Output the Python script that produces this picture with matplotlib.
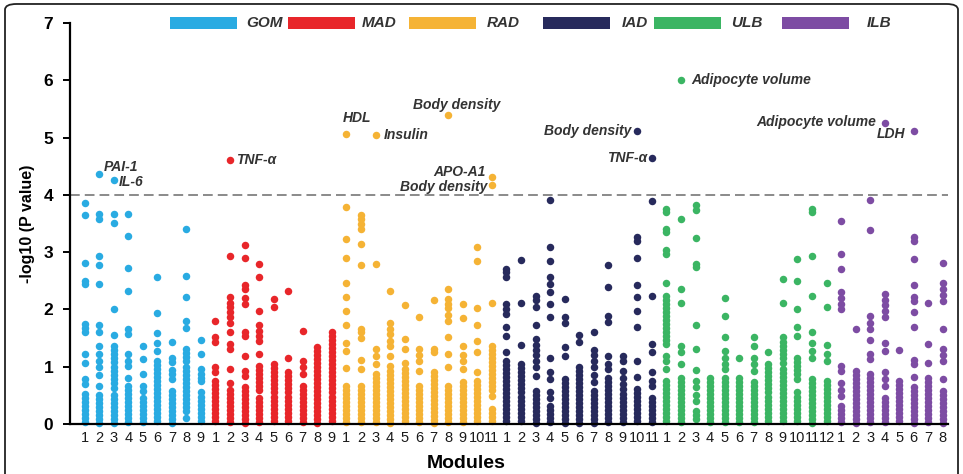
"""-log10 P values of trait associations per module in six adipose/liver tissues."""
import matplotlib; matplotlib.use("Agg"); import matplotlib.pyplot as plt
from matplotlib.patches import Rectangle, FancyBboxPatch
plt.rcParams.update({"font.family":["Liberation Sans","DejaVu Sans"],"font.size":10})

groups=["GOM","MAD","RAD","IAD","ULB","ILB"]
colors=["#29abe2","#e8262a","#f5b335","#272a5c","#3bb563","#7d4ca3"]

gom=[[3.85,3.65,2.81,2.49,2.45,1.75,1.67,1.6,1.22,1.07,0.78,0.69,0.52,0.45,0.38,0.31,0.24,0.17,0.1,0.03],
     [4.36,3.67,3.57,2.93,2.78,2.45,1.72,1.6,1.37,1.22,1.1,1.0,0.85,0.67,0.5,0.43,0.36,0.29,0.22,0.15,0.08,0.02],
     [4.26,3.67,3.51,2.0,1.56,1.37,1.3,1.22,1.15,1.08,1.0,0.93,0.86,0.79,0.72,0.62,0.5,0.43,0.36,0.29,0.22,0.15,0.08,0.02],
     [3.67,3.28,2.72,2.32,1.66,1.57,1.22,1.1,1.02,0.8,0.67,0.6,0.53,0.46,0.39,0.32,0.25,0.18,0.11,0.04],
     [1.37,1.13,0.87,0.67,0.58,0.46,0.39,0.32,0.25,0.18,0.11,0.04],
     [2.56,1.94,1.59,1.41,1.28,1.1,1.03,0.96,0.89,0.82,0.75,0.68,0.61,0.54,0.47,0.4,0.33,0.26,0.19,0.12,0.05],
     [1.44,1.16,1.08,0.95,0.88,0.78,0.58,0.51,0.44,0.37,0.3,0.23,0.16,0.09,0.02],
     [3.4,2.59,2.21,1.8,1.67,1.31,1.24,1.17,1.1,1.0,0.93,0.86,0.79,0.72,0.65,0.58,0.51,0.44,0.37,0.3,0.22,0.1],
     [1.47,1.22,0.96,0.88,0.8,0.75,0.55,0.48,0.41,0.34,0.27,0.2,0.13,0.06]]
mad=[[1.8,1.51,1.43,0.99,0.9,0.75,0.68,0.61,0.54,0.47,0.4,0.33,0.26,0.19,0.12,0.05],
     [4.61,2.93,2.21,2.12,2.04,1.95,1.86,1.77,1.61,1.4,1.31,0.96,0.72,0.6,0.53,0.46,0.39,0.32,0.25,0.18,0.11,0.04],
     [3.12,2.9,2.42,2.35,2.2,2.1,1.6,1.54,1.19,0.93,0.84,0.64,0.57,0.5,0.43,0.36,0.29,0.22,0.15,0.08,0.02],
     [2.8,2.57,1.97,1.72,1.63,1.53,1.45,1.22,1.02,0.95,0.88,0.81,0.74,0.67,0.6,0.46,0.39,0.32,0.25,0.18,0.11,0.04],
     [2.18,2.05,1.04,0.97,0.9,0.83,0.76,0.69,0.62,0.55,0.48,0.41,0.34,0.27,0.2,0.13,0.06],
     [2.32,1.16,0.9,0.83,0.76,0.69,0.62,0.55,0.48,0.41,0.34,0.27,0.2,0.13,0.06],
     [1.63,1.1,1.0,0.87,0.67,0.6,0.53,0.46,0.39,0.32,0.25,0.18,0.11,0.04],
     [1.34,1.27,1.2,1.13,1.06,0.99,0.92,0.85,0.78,0.71,0.64,0.57,0.5,0.43,0.36,0.29,0.22,0.15,0.08,0.02],
     [1.6,1.53,1.46,1.39,1.32,1.25,1.18,1.11,1.04,0.97,0.9,0.83,0.76,0.69,0.62,0.55,0.48,0.41,0.34,0.27,0.2,0.13,0.06]]
rad=[[5.06,3.79,3.23,2.9,2.47,2.21,1.97,1.73,1.41,1.28,0.97,0.67,0.6,0.53,0.46,0.39,0.32,0.25,0.18,0.11,0.04],
     [3.64,3.57,3.5,3.41,3.15,2.78,1.66,1.6,1.5,1.11,0.96,0.67,0.6,0.53,0.46,0.39,0.32,0.25,0.18,0.11,0.04],
     [5.05,2.8,1.31,1.18,1.05,0.87,0.8,0.73,0.66,0.59,0.52,0.45,0.38,0.31,0.24,0.17,0.1,0.03],
     [2.33,1.77,1.65,1.57,1.45,1.37,1.19,1.02,0.93,0.86,0.79,0.72,0.65,0.58,0.51,0.44,0.37,0.3,0.23,0.16,0.09,0.02],
     [2.07,1.48,1.31,1.07,0.96,0.89,0.82,0.75,0.68,0.61,0.54,0.47,0.4,0.33,0.26,0.19,0.12,0.05],
     [1.86,1.31,1.2,1.1,0.93,0.67,0.6,0.53,0.46,0.39,0.32,0.25,0.18,0.11,0.04],
     [2.17,1.31,1.25,0.91,0.84,0.77,0.7,0.63,0.56,0.49,0.42,0.35,0.28,0.21,0.14,0.07,0.01],
     [5.4,2.36,2.18,2.1,2.02,1.9,1.8,1.51,1.23,0.99,0.67,0.6,0.53,0.46,0.39,0.32,0.25,0.18,0.11,0.04],
     [2.1,1.85,1.37,1.2,1.1,0.96,0.74,0.67,0.6,0.53,0.46,0.39,0.32,0.25,0.18,0.11,0.04],
     [3.09,2.85,2.03,1.72,1.45,1.26,0.91,0.75,0.68,0.61,0.54,0.47,0.4,0.33,0.26,0.19,0.12,0.05],
     [4.31,4.18,2.11,1.37,1.3,1.23,1.16,1.09,1.02,0.95,0.88,0.81,0.74,0.67,0.6,0.49,0.26,0.19,0.12,0.05]]
iad=[[2.71,2.65,2.56,2.1,2.0,1.92,1.69,1.54,1.26,1.1,1.03,0.96,0.89,0.82,0.75,0.68,0.61,0.54,0.47,0.4,0.33,0.26,0.19,0.12,0.05],
     [2.87,2.12,1.38,1.04,0.97,0.9,0.83,0.76,0.69,0.62,0.55,0.48,0.41,0.34,0.27,0.2,0.13,0.06],
     [2.24,2.16,2.04,1.72,1.48,1.38,1.3,1.2,1.1,1.0,0.84,0.58,0.51,0.44,0.37,0.3,0.23,0.16,0.09,0.02],
     [3.91,3.09,2.84,2.56,2.45,2.3,2.1,1.87,1.16,0.9,0.78,0.56,0.45,0.32,0.25,0.18,0.11,0.04],
     [2.18,1.86,1.77,1.34,1.19,0.78,0.71,0.64,0.57,0.5,0.43,0.36,0.29,0.22,0.15,0.08,0.02],
     [1.56,1.43,0.99,0.92,0.85,0.78,0.71,0.64,0.57,0.5,0.43,0.36,0.29,0.22,0.15,0.08,0.02],
     [1.61,1.29,1.2,1.1,1.0,0.85,0.74,0.58,0.51,0.44,0.37,0.3,0.23,0.16,0.09,0.02],
     [2.78,2.39,1.89,1.78,1.19,1.05,0.96,0.81,0.74,0.67,0.6,0.53,0.46,0.39,0.32,0.25,0.18,0.11,0.04],
     [1.19,1.1,0.93,0.8,0.7,0.61,0.52,0.45,0.38,0.31,0.24,0.17,0.1,0.03],
     [5.12,3.26,3.2,2.9,2.43,2.21,1.98,1.7,1.1,0.82,0.61,0.54,0.47,0.4,0.33,0.26,0.19,0.12,0.05],
     [4.65,3.89,2.24,1.4,1.25,0.9,0.75,0.67,0.46,0.39,0.32,0.25,0.18,0.11,0.04]]
ulb=[[3.76,3.7,3.41,3.35,3.03,2.97,2.47,2.24,2.17,2.1,2.03,1.96,1.89,1.82,1.75,1.68,1.61,1.54,1.47,1.4,1.19,1.1,0.96,0.75,0.68,0.61,0.54,0.47,0.4,0.33,0.26,0.19,0.12,0.05],
     [6.0,3.57,2.36,2.12,1.37,1.25,1.04,0.81,0.74,0.67,0.6,0.53,0.46,0.39,0.32,0.25,0.18,0.11,0.04],
     [3.82,3.73,3.25,2.8,2.74,1.72,1.31,0.94,0.75,0.65,0.5,0.4,0.23,0.15,0.08],
     [0.81,0.74,0.67,0.6,0.53,0.46,0.39,0.32,0.25,0.18,0.11,0.04],
     [2.2,1.89,1.51,1.28,1.15,1.05,0.96,0.81,0.74,0.67,0.6,0.53,0.46,0.39,0.32,0.25,0.18,0.11,0.04],
     [1.16,0.81,0.74,0.67,0.6,0.53,0.46,0.39,0.32,0.25,0.18,0.11,0.04],
     [1.51,1.37,1.16,1.05,0.93,0.73,0.66,0.59,0.52,0.45,0.38,0.31,0.24,0.17,0.1,0.03],
     [1.26,1.04,0.97,0.9,0.83,0.76,0.69,0.62,0.55,0.48,0.41,0.34,0.27,0.2,0.13,0.06],
     [2.53,2.12,1.51,1.44,1.37,1.3,1.22,1.15,1.07,0.96,0.89,0.82,0.75,0.68,0.61,0.54,0.47,0.4,0.33,0.26,0.19,0.12,0.05],
     [2.88,2.49,2.01,1.69,1.54,1.16,1.09,1.02,0.95,0.88,0.78,0.55,0.48,0.41,0.34,0.27,0.2,0.13,0.06],
     [3.76,3.7,2.93,2.23,1.61,1.42,1.28,1.16,0.78,0.71,0.64,0.57,0.5,0.43,0.36,0.29,0.22,0.15,0.08,0.02],
     [2.46,2.04,1.38,1.23,1.1,0.75,0.68,0.61,0.54,0.47,0.4,0.33,0.26,0.19,0.12,0.05]]
ilb=[[3.54,2.96,2.7,2.3,2.2,2.1,2.01,1.02,0.93,0.72,0.6,0.49,0.32,0.25,0.18,0.11,0.04],
     [1.65,0.93,0.86,0.79,0.72,0.65,0.58,0.51,0.44,0.37,0.3,0.23,0.16,0.09,0.02],
     [3.91,3.38,1.89,1.77,1.66,1.47,1.22,1.13,0.87,0.8,0.73,0.66,0.59,0.52,0.45,0.38,0.31,0.24,0.17,0.1,0.03],
     [5.26,2.27,2.17,2.07,1.98,1.86,1.42,1.27,0.9,0.78,0.67,0.46,0.39,0.32,0.25,0.18,0.11,0.04],
     [1.3,0.75,0.68,0.61,0.54,0.47,0.4,0.33,0.26,0.19,0.12,0.05],
     [5.12,3.26,3.2,2.88,2.43,2.21,2.15,1.96,1.7,1.12,1.04,0.82,0.64,0.57,0.5,0.43,0.36,0.29,0.22,0.15,0.08,0.02],
     [2.12,1.4,1.07,0.81,0.74,0.67,0.6,0.53,0.46,0.39,0.32,0.25,0.18,0.11,0.04],
     [2.81,2.46,2.36,2.25,2.15,1.66,1.31,1.2,1.1,0.78,0.58,0.51,0.44,0.37,0.3,0.23,0.16,0.09,0.02]]
modules=[gom,mad,rad,iad,ulb,ilb]

# significant traits: label, tissue, module number, -log10 P
ann_text=["PAI-1","IL-6","TNF-α","HDL","Insulin","Body density","APO-A1","Body density",
          "Body density","TNF-α","Adipocyte volume","Adipocyte volume","LDH"]
ann_group=["GOM","GOM","MAD","RAD","RAD","RAD","RAD","RAD","IAD","IAD","ULB","ILB","ILB"]
ann_module=[2,3,2,1,3,8,11,11,10,11,2,4,6]
ann_value=[4.36,4.26,4.61,5.06,5.05,5.4,4.31,4.18,5.12,4.65,6.0,5.26,5.12]
# (dx px, dy px, ha) per label
ann_place=[(5,7,"left"),(5,-2,"left"),(6,0,"left"),(11,16,"center"),(8,0,"left"),(8,10,"center"),
           (-6,5,"right"),(-5,-2,"right"),(-6,0,"right"),(-5,0,"right"),(10,0,"left"),(-9,1,"right"),(-9,-3,"right")]

fig=plt.figure(figsize=(9.63,4.74),dpi=100)
ax=fig.add_axes([70/963,1-424/474,878/963,401/474])
x=0; ticks=[]; labels=[]; pos={}
for g,col,mods in zip(groups,colors,modules):
    for mi,vals in enumerate(mods):
        ax.plot([x]*len(vals),vals,"o",color=col,ms=5.4,mec="none",clip_on=False)
        ticks.append(x); labels.append(str(mi+1)); pos[(g,mi+1)]=x; x+=1
ax.set_xlim(-1.0,59.35); ax.set_ylim(0,7)
ax.axhline(4,color="#8a8a8a",ls=(0,(5,2.6)),lw=1.4,zorder=0)
for s in ["top","right"]: ax.spines[s].set_visible(False)
for s in ["left","bottom"]: ax.spines[s].set_linewidth(1.6)
ax.set_xticks(ticks); ax.set_xticklabels(labels,fontsize=10.5,color="#1a1a1a")
ax.tick_params(axis="x",length=0,pad=5)
ax.set_yticks(range(8)); ax.set_yticklabels([str(i) for i in range(8)],fontsize=12.5,fontweight="bold")
ax.tick_params(axis="y",length=5,width=1.4,pad=7)
ax.set_ylabel("-log10 (P value)",fontsize=11.5,fontweight="bold",labelpad=6)
fig.text(466/963,1-463/474,"Modules",fontsize=14,fontweight="bold",ha="center",va="center")

for t,g,m,v,(dx,dy,ha) in zip(ann_text,ann_group,ann_module,ann_value,ann_place):
    ax.annotate(t,(pos[(g,m)],v),xytext=(dx*0.72,dy*0.72),textcoords="offset points",
                ha=ha,va="center",fontsize=10,fontweight="bold",fontstyle="italic",color="#333333")

# legend swatches along the top
leg_rect=[170,288,409,543,654,782]; leg_lab=[246,362,487,622,731,867]
for g,col,rx,lx in zip(groups,colors,leg_rect,leg_lab):
    fig.patches.append(Rectangle((rx/963,1-29/474),67/963,12/474,transform=fig.transFigure,
                                 facecolor=col,edgecolor="none"))
    fig.text(lx/963,1-23/474,g,fontsize=11,fontweight="bold",fontstyle="italic",color="#333333",va="center")

fig.patches.append(FancyBboxPatch((5/963,-0.1),953/963,1.0958-2/474,boxstyle="round,pad=0,rounding_size=0.012",
                                  transform=fig.transFigure,facecolor="none",edgecolor="#222222",lw=1.3))
fig.savefig("out.png",dpi=100)
